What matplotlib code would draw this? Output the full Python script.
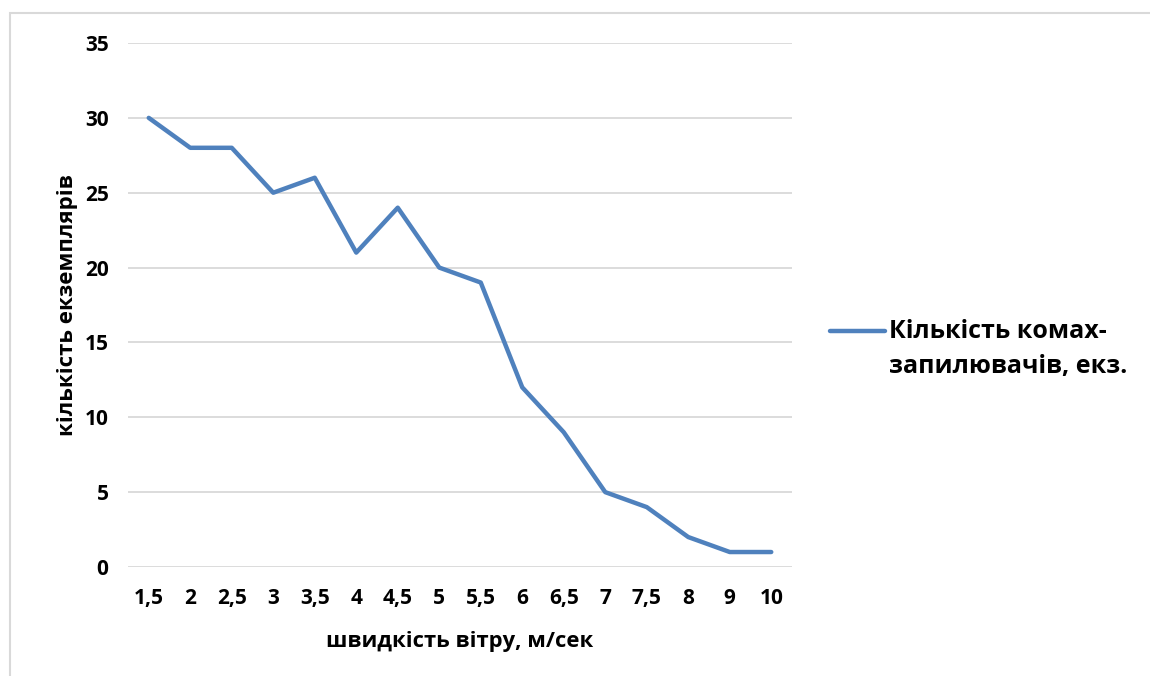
import matplotlib.pyplot as plt
from matplotlib.patches import Rectangle
from matplotlib.lines import Line2D

# Data
speeds = ["1,5", "2", "2,5", "3", "3,5", "4", "4,5", "5", "5,5",
          "6", "6,5", "7", "7,5", "8", "9", "10"]
insects = [30, 28, 28, 25, 26, 21, 24, 20, 19, 12, 9, 5, 4, 2, 1, 1]
series_name = "Кількість комах-\nзапилювачів, екз."
line_color = '#4f81bd'

W, H = 1150, 676
fig = plt.figure(figsize=(W / 100, H / 100), dpi=100)
plt.rcParams['font.family'] = ['Open Sans', 'DejaVu Sans']

# plot area placed in pixel terms
left, right, top, bottom = 128, 792, 43, 567
ax = fig.add_axes([left / W, 1 - bottom / H, (right - left) / W, (bottom - top) / H])

x = range(len(speeds))
ax.plot(x, insects, color=line_color, lw=3.2, solid_capstyle='round',
        solid_joinstyle='round', zorder=3)

ax.set_xlim(-0.5, len(speeds) - 0.5)
ax.set_ylim(0, 35)
ax.set_yticks(range(0, 36, 5))
ax.set_xticks(list(x))
ax.set_xticklabels(speeds)
ax.grid(axis='y', color='#d9d9d9', lw=1.3)
ax.set_axisbelow(True)
for s in ax.spines.values():
    s.set_visible(False)
ax.tick_params(length=0, labelsize=15)
ax.tick_params(axis='y', pad=14)
ax.tick_params(axis='x', pad=15)
for lab in ax.get_xticklabels() + ax.get_yticklabels():
    lab.set_fontweight('bold')

ax.set_xlabel("швидкість вітру, м/сек", fontsize=15.8, fontweight='bold', labelpad=16)
ax.set_ylabel("кількість екземплярів", fontsize=16, fontweight='bold', labelpad=5)

# legend on the right: handle lines up with the first text line
fig.add_artist(Line2D([830 / W, 885 / W], [1 - 331 / H, 1 - 331 / H],
                      transform=fig.transFigure, color=line_color, lw=3.2,
                      solid_capstyle='round'))
fig.text(889 / W, 1 - 319 / H, series_name, fontsize=18, fontweight='bold',
         va='top', ha='left', linespacing=1.5)

# light chart border (runs off the right and bottom edges)
fig.patches.append(Rectangle((9.5 / W, -0.1), 2, 1 - 13 / H + 0.1,
                             transform=fig.transFigure, fill=False,
                             edgecolor='#d9d9d9', lw=1.5))

fig.savefig("out.png", dpi=100)
